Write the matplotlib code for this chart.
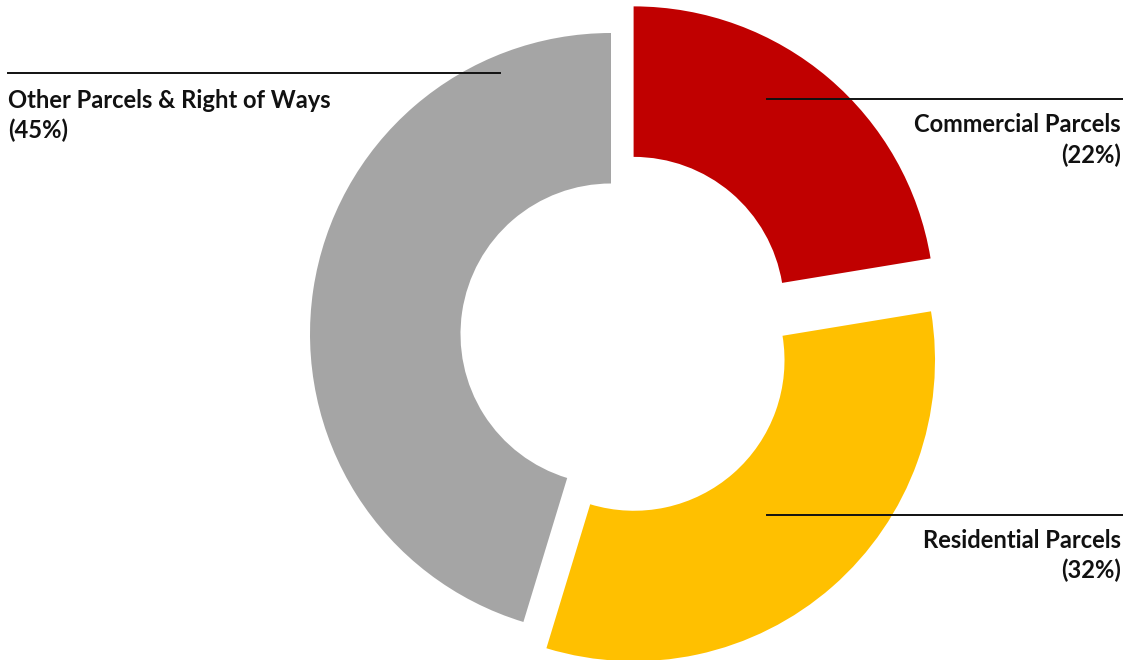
import matplotlib
matplotlib.use("Agg")
import matplotlib.pyplot as plt
from matplotlib.lines import Line2D

categories = ["Commercial Parcels", "Residential Parcels", "Other Parcels & Right of Ways"]
values = [22.4, 32.3, 45.3]
pct_labels = ["(22%)", "(32%)", "(45%)"]
colors = ["#C00000", "#FFC000", "#A5A5A5"]
explode = [0.116, 0.116, 0.0]

W, H = 1123, 660
fig = plt.figure(figsize=(W / 100, H / 100), dpi=100)
ax = fig.add_axes([0, 0, 1, 1])

R = 301.0
cx, cy = 611.0, 334.0

ax.pie(values, colors=colors, explode=explode, startangle=90, counterclock=False,
       radius=1.0, wedgeprops=dict(width=0.5, linewidth=0))
ax.set_aspect("auto")
ax.set_xlim(-cx / R, (W - cx) / R)
ax.set_ylim(-(H - cy) / R, cy / R)
ax.axis("off")


def fx(px):
    return px / W


def fy(py):
    return 1 - py / H


font = dict(family=["Lato", "DejaVu Sans"], fontsize=17.1, fontweight="bold", color="#111111")

# leader lines (pixel coords of the reference layout)
leaders = [((767, 99), (1123, 99)), ((767, 515), (1123, 515)), ((8, 73), (500, 73))]
for (x0, y0), (x1, y1) in leaders:
    fig.add_artist(Line2D([fx(x0), fx(x1)], [fy(y0), fy(y1)], color="#111111", lw=1.4))

# labels
fig.text(fx(1121), fy(125), categories[0], ha="right", va="center", **font)
fig.text(fx(1121), fy(155), pct_labels[0], ha="right", va="center", **font)
fig.text(fx(1121), fy(540), categories[1], ha="right", va="center", **font)
fig.text(fx(1121), fy(570), pct_labels[1], ha="right", va="center", **font)
fig.text(fx(8), fy(100), categories[2], ha="left", va="center", **font)
fig.text(fx(8), fy(130), pct_labels[2], ha="left", va="center", **font)

fig.savefig("out.png", dpi=100)
